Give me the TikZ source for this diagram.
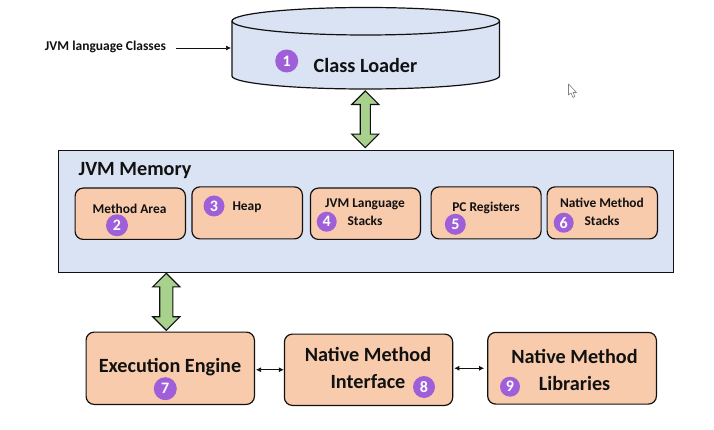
\documentclass[tikz,border=0pt]{standalone}
\usepackage{fontspec}
\setmainfont{Carlito}
\usetikzlibrary{shapes.arrows,arrows.meta}
\definecolor{paleblue}{HTML}{DAE3F3}
\definecolor{peach}{HTML}{F8CBAD}
\definecolor{leaf}{HTML}{A9D18E}
\definecolor{grape}{HTML}{9E5FD9}
\definecolor{ink}{HTML}{111111}
\tikzset{
  x=1pt,y=-1pt,
  box/.style={draw=ink,line width=1.2pt,fill=peach,rounded corners=8pt,inner sep=0pt,anchor=north west},
  panel/.style={draw=ink,line width=1.1pt,fill=paleblue,inner sep=0pt,anchor=north west},
  badge/.style={circle,fill=grape,text=white,inner sep=0pt,font=\bfseries\fontsize{16}{16}\selectfont},
  lab/.style={inner sep=0pt,align=center,text=ink,font=\bfseries},
  smalllab/.style={lab,font=\bfseries\fontsize{13.4}{18}\selectfont},
  biglab/.style={lab,font=\bfseries\fontsize{20.2}{27}\selectfont},
  updown/.style={shape=double arrow,draw=ink,line width=1.1pt,fill=leaf,rotate=90,inner xsep=0pt,
    double arrow tip angle=90},
  thin arrow/.style={draw=ink,line width=0.7pt},
}
\newcommand{\boxat}[5]{\node[box,minimum width=#4-#2,minimum height=#5-#3] (#1) at (#2,#3) {};}
\begin{document}
\begin{tikzpicture}
\useasboundingbox (0,0) rectangle (714,430);
% class loader cylinder
\draw[draw=ink,line width=1.2pt,fill=paleblue]
  (232,21) -- (232,76) arc[start angle=180,end angle=360,x radius=133.75pt,y radius=13pt]
  -- (499.5,21) arc[start angle=0,end angle=180,x radius=133.75pt,y radius=13.5pt] -- cycle;
\draw[draw=ink,line width=1.2pt]
  (232,21) arc[start angle=180,end angle=360,x radius=133.75pt,y radius=14pt];
\node[biglab] (cl) at (365.5,65) {Class Loader};
\node[badge,minimum size=23pt] (b1) at (286.7,61) {1};
\node[lab,font=\bfseries\fontsize{13.5}{13.5}\selectfont] (src) at (105.5,47) {JVM language Classes};
\coordinate (srcend) at (176,48);
\coordinate (cylw) at (231,48);
\draw[thin arrow,-{Latex[length=5pt,width=5pt]}] (srcend) -- (cylw);
% memory panel
\node[panel,minimum width=615.5pt,minimum height=122pt] (mem) at (57.5,150) {};
\node[biglab] (memt) at (135,171) {JVM Memory};
\boxat{area}{74.5}{187.5}{184.8}{238.8}
\boxat{heap}{191.3}{186.3}{301.8}{238.3}
\boxat{lang}{309.8}{187.5}{419.8}{238.8}
\boxat{pc}{430.5}{186.3}{540.5}{238.3}
\boxat{nstack}{546.5}{186.3}{656.8}{238.3}
\node[smalllab] (tarea) at (129.5,209) {Method Area};
\node[smalllab] (theap) at (247,207.5) {Heap};
\node[smalllab] (tlang) at (365,212) {JVM Language\\Stacks};
\node[smalllab] (tpc) at (486,207.5) {PC Registers};
\node[smalllab] (tnstack) at (602,212) {Native Method\\Stacks};
\node[badge,minimum size=22pt] (b2) at (117,225.3) {2};
\node[badge,minimum size=21pt] (b3) at (214,206) {3};
\node[badge,minimum size=20pt] (b4) at (326.7,221.7) {4};
\node[badge,minimum size=21pt] (b5) at (455.3,224.3) {5};
\node[badge,minimum size=20pt] (b6) at (563.7,222.7) {6};
% bottom row
\boxat{exec}{85.5}{331.5}{253.8}{403.8}
\boxat{iface}{283.8}{333.5}{452.1}{404.8}
\boxat{libs}{487.1}{331.8}{655.8}{403.5}
\node[biglab] (texec) at (170,367.5) {Execution Engine};
\node[biglab] (tiface) at (368,367.5) {Native Method\\Interface};
\node[biglab] (tlibs) at (574.5,369.5) {Native Method\\Libraries};
\node[badge,minimum size=23pt] (b7) at (165.3,388.7) {7};
\node[badge,minimum size=22pt] (b8) at (424,387) {8};
\node[badge,minimum size=20pt] (b9) at (510,386.7) {9};
% connectors
\node[updown,inner ysep=4.5pt,double arrow head extend=8.5pt,minimum height=56.7pt] (up) at (365.3,119.3) {};
\node[updown,inner ysep=6pt,double arrow head extend=7pt,minimum height=57pt] (down) at (166.3,301.8) {};
\draw[thin arrow,{Latex[length=5pt,width=5pt]}-{Latex[length=5pt,width=5pt]}]
  (iface.west -| exec.east) ++(1,0) -- (iface.west);
\draw[thin arrow,{Latex[length=5pt,width=5pt]}-{Latex[length=5pt,width=5pt]},shorten >=3pt]
  (libs.west -| iface.east) ++(1,0) -- (libs.west);
% pointer
\draw[draw=gray,line width=0.6pt,fill=white,line join=round]
  (568.5,84) -- (568.5,95) -- (571,93) -- (573,97.5) -- (575,96.5) -- (573,92.5) -- (576.5,92.5) -- cycle;
\end{tikzpicture}
\end{document}
